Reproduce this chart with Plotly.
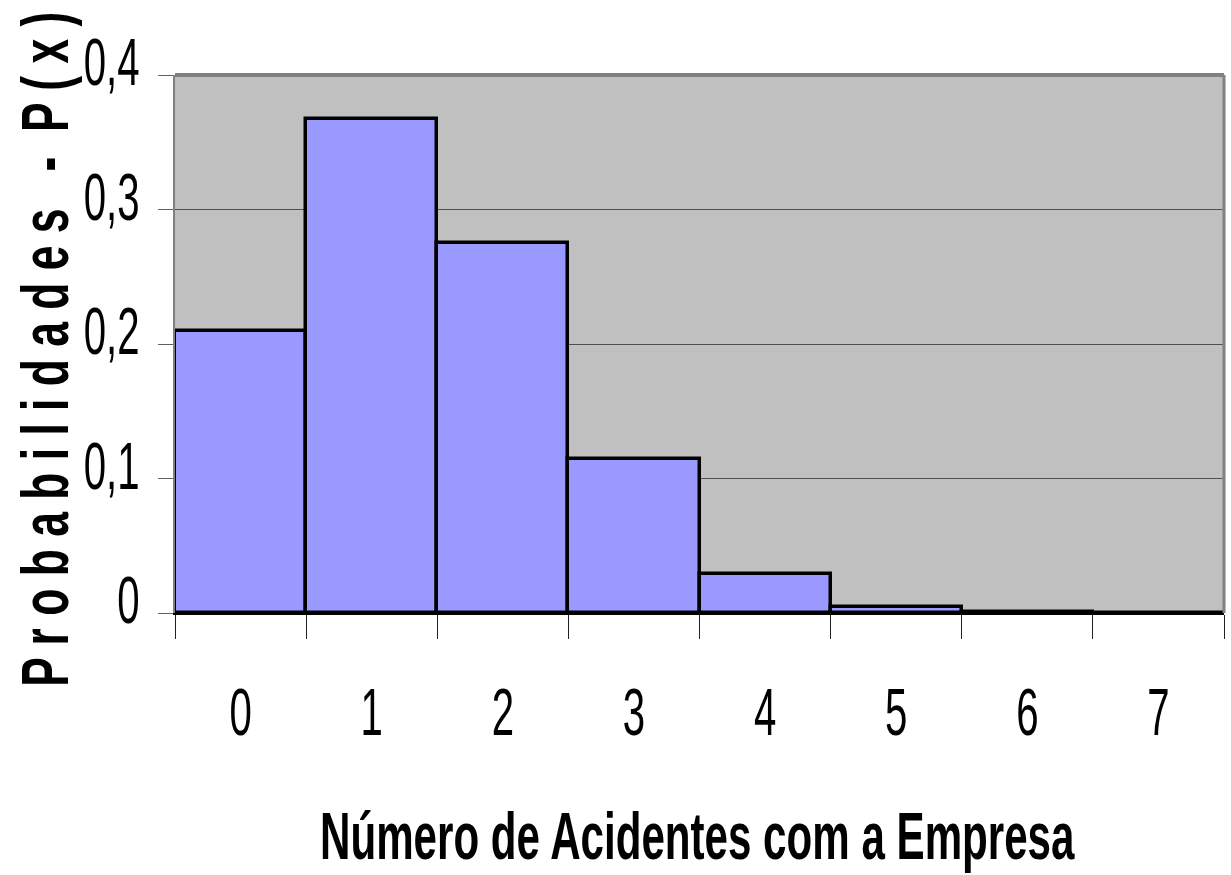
import plotly.graph_objects as go

categories = ["0", "1", "2", "3", "4", "5", "6", "7"]
probabilities = [0.2097, 0.3670, 0.2753, 0.1147, 0.0287, 0.0043, 0.0004, 0.0000]
y_ticks = [0, 0.1, 0.2, 0.3, 0.4]
y_tick_labels = ["0", "0,1", "0,2", "0,3", "0,4"]

x_title = "Número de Acidentes com a Empresa"
NB = "\u00a0"
y_title = "P r o b a b i l i d a d e s" + NB * 3 + "-" + NB * 2 + "P ( x )"

FONT = "Liberation Sans, Arial, sans-serif"

fig = go.Figure(
    go.Bar(
        x=categories,
        y=probabilities,
        marker=dict(color="#9999FF", line=dict(color="black", width=3.5)),
        hoverinfo="x+y",
    )
)

fig.update_layout(
    width=1231,
    height=875,
    margin=dict(l=175, r=7, t=75, b=262),
    paper_bgcolor="white",
    plot_bgcolor="#C0C0C0",
    bargap=0,
    showlegend=False,
    font=dict(family=FONT, color="black"),
)

fig.update_xaxes(
    type="category",
    automargin=False,
    tickson="boundaries",
    ticks="outside",
    ticklen=24,
    tickwidth=1,
    tickcolor="#202020",
    tickfont=dict(size=67, family=FONT),
    ticklabelstandoff=40,
    showline=True,
    linecolor="black",
    linewidth=2,
    showgrid=False,
    range=[-0.5, 7.5],
)

fig.update_yaxes(
    automargin=False,
    range=[0, 0.4],
    tickvals=y_ticks,
    ticktext=y_tick_labels,
    ticks="outside",
    ticklen=15,
    tickwidth=1,
    tickcolor="#606060",
    tickfont=dict(size=67, family=FONT),
    ticklabelstandoff=5,
    showline=True,
    linecolor="#808080",
    linewidth=2,
    showgrid=True,
    gridcolor="#505050",
    gridwidth=1,
    zeroline=False,
)

# axis titles
fig.add_annotation(text=x_title, xref="paper", yref="paper", x=0.5, y=0,
                   xshift=-2, yshift=-222, xanchor="center", yanchor="middle",
                   showarrow=False, font=dict(size=67, family=FONT, weight="bold"))
fig.add_annotation(text=y_title, xref="paper", yref="paper", x=0, y=0.5,
                   xshift=-131, yshift=-5, xanchor="center", yanchor="middle",
                   textangle=-90, showarrow=False,
                   font=dict(size=67, family=FONT, weight="bold"))

# top and right border of plot area
fig.add_shape(type="line", xref="paper", yref="paper", x0=0, x1=1, y0=1, y1=1,
              line=dict(color="#808080", width=4))
fig.add_shape(type="line", xref="paper", yref="paper", x0=1, x1=1, y0=0, y1=1,
              line=dict(color="#808080", width=3))

# condense the text horizontally (reference uses a narrow typeface)
post = """
var gd = document.getElementById('{plot_id}');
function squeeze(nodes, f) {
  nodes.forEach(function(t) {
    var L = t.getComputedTextLength() * f;
    t.setAttribute('textLength', L);
    t.setAttribute('lengthAdjust', 'spacingAndGlyphs');
  });
}
function narrow(t, target) {
  var b = t.getBBox();
  var f = target / b.width;
  var cx = b.x + b.width / 2;
  var old = t.getAttribute('transform') || '';
  t.setAttribute('transform', old + ' translate(' + cx + ',0) scale(' + f + ',1) translate(' + (-cx) + ',0)');
}
squeeze(gd.querySelectorAll('.xtick text'), 0.6);
squeeze(gd.querySelectorAll('.ytick text'), 0.6);
gd.querySelectorAll('.ytick text').forEach(function(t) {
  var y = parseFloat(t.getAttribute('y') || '0');
  t.setAttribute('y', y - 13);
});
var ann = gd.querySelectorAll('.annotation-text');
if (ann.length > 0) narrow(ann[0], 755);
if (ann.length > 1) narrow(ann[1], 675);
"""

fig.write_html("out.html", post_script=post)
